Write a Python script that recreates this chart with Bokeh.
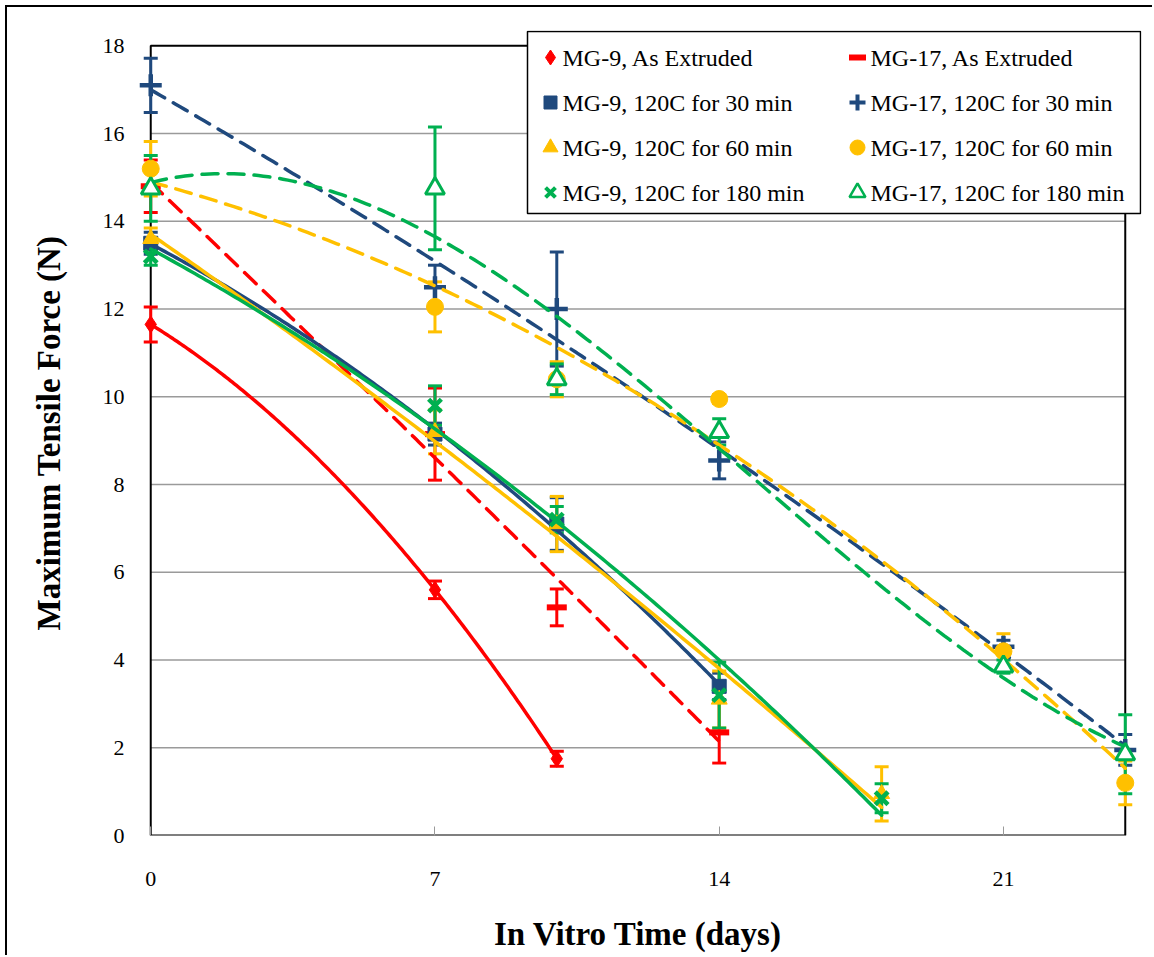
import numpy as np
from bokeh.plotting import figure
from bokeh.models import (ColumnDataSource, Whisker, TeeHead,
                          FixedTicker, Range1d, BoxAnnotation, Label)
from bokeh.embed import file_html
from bokeh.resources import INLINE

# ---- data ----
days_9ae = [0, 7, 10]
force_9ae = [11.65, 5.6, 1.75]
err_9ae = [0.4, 0.2, 0.17]

days_17ae = [0, 7, 10, 14]
force_17ae = [14.8, 9.15, 5.2, 2.35]
err_17ae = [0.6, 1.05, 0.42, 0.7]

days_9_30 = [0, 7, 10, 14]
force_9_30 = [13.5, 9.15, 7.1, 3.4]
err_9_30 = [0.25, 0.25, 0.6, 0.3]

days_17_30 = [0, 7, 10, 14, 21, 24]
force_17_30 = [17.1, 12.5, 12.0, 8.55, 4.3, 1.95]
err_17_30 = [0.62, 0.5, 1.3, 0.42, 0.15, 0.35]

days_9_60 = [0, 7, 10, 14, 18]
force_9_60 = [13.6, 9.2, 7.1, 3.1, 0.95]
err_9_60 = [0.25, 0.5, 0.63, 0.65, 0.62]

days_17_60 = [0, 7, 10, 14, 21, 24]
force_17_60 = [15.2, 12.05, 10.4, 9.95, 4.2, 1.2]
err_17_60 = [0.62, 0.57, 0.4, 0.1, 0.4, 0.5]

days_9_180 = [0, 7, 10, 14, 18]
force_9_180 = [13.2, 9.8, 7.2, 3.2, 0.85]
err_9_180 = [0.2, 0.45, 0.3, 0.75, 0.33]

days_17_180 = [0, 7, 10, 14, 21, 24]
force_17_180 = [14.75, 14.75, 10.4, 9.2, 3.85, 1.85]
err_17_180 = [0.75, 1.4, 0.35, 0.3, 0.15, 0.9]

x_ticks = [0, 7, 14, 21]
y_ticks = [0, 2, 4, 6, 8, 10, 12, 14, 16, 18]
x_max = 24
y_max = 18
labels = ["MG-9, As Extruded", "MG-17, As Extruded",
          "MG-9, 120C for 30 min", "MG-17, 120C for 30 min",
          "MG-9, 120C for 60 min", "MG-17, 120C for 60 min",
          "MG-9, 120C for 180 min", "MG-17, 120C for 180 min"]

RED = "#FF0000"
NAVY = "#1F497D"
GOLD = "#FFC000"
GREEN = "#00B050"
FONT = "Liberation Serif"

# layout constants
W, H = 1147, 950
B_LEFT, B_RIGHT, B_TOP, B_BOTTOM = 127, 13, 23, 122
X0, X1, Y0, Y1 = -0.4, 24.4, 0.0, 18.35
FRAME_W = W - B_LEFT - B_RIGHT
FRAME_H = H - B_TOP - B_BOTTOM

# ranges padded a little so that edge markers and the legend are not clipped;
# the chart box itself is drawn from 0..24 x 0..18
p = figure(width=W, height=H, output_backend="svg", toolbar_location=None,
           x_range=Range1d(X0, X1), y_range=Range1d(Y0, Y1),
           min_border_left=B_LEFT, min_border_right=B_RIGHT, min_border_top=B_TOP,
           min_border_bottom=B_BOTTOM)
p.styles = {"margin-left": "5px", "margin-top": "5px",
            "border-left": "2px solid black", "border-top": "2px solid black"}
p.background_fill_color = "white"
p.border_fill_color = "white"
p.outline_line_color = None

p.xgrid.grid_line_color = None
p.ygrid.grid_line_color = None
p.yaxis.ticker = FixedTicker(ticks=y_ticks)
p.xaxis.ticker = FixedTicker(ticks=x_ticks)

# horizontal grid lines, from the tick list, spanning the chart box
grid_y = [t for t in y_ticks if 0 < t < y_max]
p.segment(x0=[0] * len(grid_y), x1=[x_max] * len(grid_y), y0=grid_y, y1=grid_y,
          line_color="#9a9a9a", line_width=1.5, level="underlay")
# chart box
p.add_layout(BoxAnnotation(left=0, right=x_max, bottom=0, top=y_max,
                           fill_alpha=0, fill_color=None,
                           line_color="black", line_alpha=1.0, line_width=2,
                           level="underlay"))

for ax in (p.xaxis[0], p.yaxis[0]):
    ax.axis_line_color = None
    ax.minor_tick_line_color = None
    ax.major_label_text_font = FONT
    ax.major_label_text_font_size = "22px"
    ax.major_label_text_color = "black"
    ax.axis_label_text_font = FONT
    ax.axis_label_text_font_style = "bold"
    ax.axis_label_text_font_size = "33px"
    ax.axis_label_text_color = "black"

p.xaxis.major_tick_in = 9
p.xaxis.major_tick_out = 0
p.xaxis.major_tick_line_color = "#9a9a9a"
p.xaxis.major_label_standoff = 36
p.xaxis.axis_label = "In Vitro Time (days)"
p.xaxis.axis_label_standoff = 27

p.yaxis.major_tick_in = 0
p.yaxis.major_tick_out = 0
p.yaxis.major_label_standoff = 10
p.yaxis.axis_label = "Maximum Tensile Force (N)"
p.yaxis.axis_label_standoff = 33

series = [
    (days_9ae, force_9ae, err_9ae, RED, "diamond", None, 2),
    (days_17ae, force_17ae, err_17ae, RED, "dash", "16 10", 2),
    (days_9_30, force_9_30, err_9_30, NAVY, "square", None, 2),
    (days_17_30, force_17_30, err_17_30, NAVY, "cross", "16 10", 2),
    (days_9_60, force_9_60, err_9_60, GOLD, "triangle", None, 2),
    (days_17_60, force_17_60, err_17_60, GOLD, "circle", "16 10", 2),
    (days_9_180, force_9_180, err_9_180, GREEN, "x", None, 2),
    (days_17_180, force_17_180, err_17_180, GREEN, "triangle", "16 10", 3),
]

marker_style = [
    dict(size=17, line_width=1, fill=RED, lsize=15, llw=1),
    dict(size=20, line_width=6, fill=RED, lsize=17, llw=6),
    dict(size=14, line_width=1, fill=NAVY, lsize=13, llw=1),
    dict(size=22, line_width=4.5, fill=NAVY, lsize=16, llw=4),
    dict(size=16, line_width=1, fill=GOLD, lsize=15, llw=1),
    dict(size=17, line_width=1, fill=GOLD, lsize=15, llw=1),
    dict(size=18, line_width=4.5, fill=GREEN, lsize=14, llw=4),
    dict(size=19, line_width=3, fill="white", lsize=16, llw=2.5),
]

for (xs, ys, es, color, marker, dash, deg), st in zip(series, marker_style):
    xs_a = np.array(xs, dtype=float)
    ys_a = np.array(ys, dtype=float)
    es_a = np.array(es, dtype=float)
    # polynomial trendline fitted to the data
    coef = np.polyfit(xs_a, ys_a, deg)
    xt = np.linspace(xs_a.min(), xs_a.max(), 200)
    yt = np.polyval(coef, xt)
    p.line(xt, yt, line_color=color, line_width=3.5,
           line_dash=dash if dash else "solid", line_cap="round")
    src = ColumnDataSource(dict(x=xs, y=ys, upper=(ys_a + es_a).tolist(),
                                lower=(ys_a - es_a).tolist()))
    w = Whisker(source=src, base="x", upper="upper", lower="lower",
                line_color=color, line_width=3,
                upper_head=TeeHead(size=14, line_color=color, line_width=3),
                lower_head=TeeHead(size=14, line_color=color, line_width=3))
    p.add_layout(w)
    p.scatter("x", "y", source=src, marker=marker, size=st["size"],
              line_width=st["line_width"], line_color=color,
              fill_color=st["fill"])

# ---- legend (box, marker keys and texts), positions in screen px from the
# frame's bottom-left corner ----
LEG_L, LEG_R, LEG_B, LEG_T = 393, 1006, 622, 804
row_y = [778, 733, 688, 643]
key_x = [416, 723]
text_x = [428, 736]

p.add_layout(BoxAnnotation(left=LEG_L, right=LEG_R, bottom=LEG_B, top=LEG_T,
                           left_units="screen", right_units="screen",
                           bottom_units="screen", top_units="screen",
                           fill_color="white", fill_alpha=1.0,
                           line_color="black", line_alpha=1.0, line_width=1.5,
                           level="annotation"))


def sx_to_data(sx):
    return X0 + sx * (X1 - X0) / FRAME_W


def sy_to_data(sy):
    return Y0 + sy * (Y1 - Y0) / FRAME_H


for k, ((xs, ys, es, color, marker, dash, deg), st) in enumerate(zip(series, marker_style)):
    row, col = divmod(k, 2)
    p.scatter([sx_to_data(key_x[col])], [sy_to_data(row_y[row])], marker=marker,
              size=st["lsize"], line_width=st["llw"], line_color=color,
              fill_color=st["fill"], level="overlay")
    p.add_layout(Label(x=text_x[col], y=row_y[row], x_units="screen", y_units="screen",
                       text=labels[k], text_font=FONT, text_font_size="24px",
                       text_color="black", text_baseline="middle", text_align="left",
                       level="overlay"))

open("out.html", "w").write(file_html(p, INLINE))
